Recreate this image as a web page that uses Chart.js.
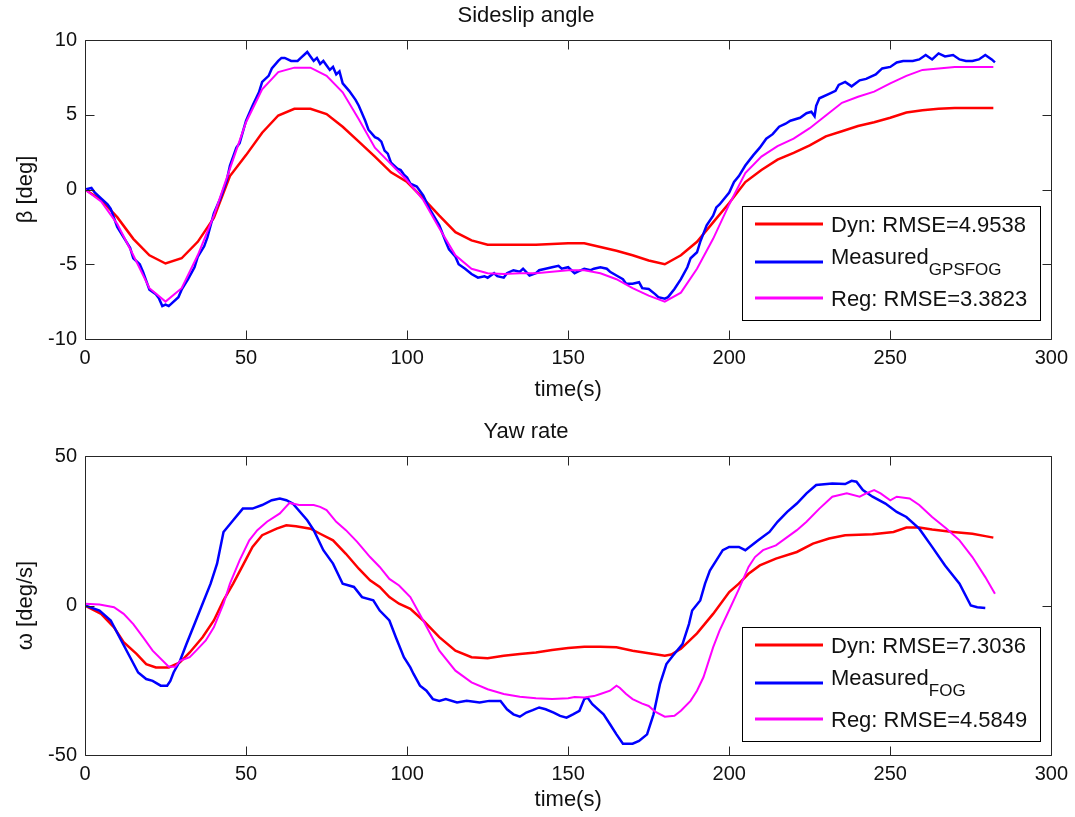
<!DOCTYPE html>
<html>
<head>
<meta charset="utf-8">
<script src="https://cdn.jsdelivr.net/npm/chart.js@4"></script>
<style>
  html, body { margin: 0; padding: 0; background: #fff; overflow: hidden; }
  #wrap { position: relative; width: 1075px; height: 817px; background: #fff; }
  canvas { position: absolute; left: 0; }
  #sideslipChart { top: 0; }
  #yawChart { top: 416px; }
</style>
</head>
<body>
<div id="wrap">
  <canvas id="sideslipChart" width="1075" height="410"></canvas>
  <canvas id="yawChart" width="1075" height="401"></canvas>
</div>
<script>
// ---- Sideslip angle (deg) ----
// Dyn and Reg models share one time grid
const betaTime = [0, 5, 10, 15, 20, 25, 30, 35, 40, 45,
  50, 55, 60, 65, 70, 75, 80, 85, 90, 95,
  100, 105, 110, 115, 120, 125, 130, 135, 140, 145,
  150, 155, 160, 165, 170, 175, 180, 185, 190, 195,
  200, 205, 210, 215, 220, 225, 230, 235, 240, 245,
  250, 255, 260, 265, 270, 275, 280, 282];
const betaDyn = [0, -0.7, -1.85, -3.3, -4.4, -4.95, -4.6, -3.5, -1.9, 0.9,
  2.3, 3.8, 4.95, 5.4, 5.4, 5.05, 4.2, 3.2, 2.2, 1.15,
  0.5, -0.6, -1.75, -2.85, -3.4, -3.7, -3.7, -3.7, -3.7, -3.65,
  -3.6, -3.6, -3.85, -4.1, -4.4, -4.75, -5.0, -4.4, -3.5, -2.2,
  -0.9, 0.5, 1.3, 2.0, 2.45, 2.95, 3.55, 3.9, 4.25, 4.5,
  4.8, 5.15, 5.3, 5.4, 5.45, 5.45, 5.45, 5.45];
const betaReg = [0, -0.8, -2.3, -4.4, -6.6, -7.5, -6.6, -4.4, -1.75, 1.4,
  4.5, 6.7, 7.85, 8.15, 8.15, 7.6, 6.5, 4.7, 2.8, 1.7,
  0.6, -0.7, -2.6, -4.4, -5.3, -5.6, -5.65, -5.6, -5.6, -5.5,
  -5.4, -5.4, -5.6, -6.0, -6.6, -7.1, -7.5, -6.9, -5.3, -3.3,
  -1.0, 1.1, 2.2, 2.9, 3.4, 4.1, 4.95, 5.8, 6.2, 6.55,
  7.1, 7.6, 8.0, 8.1, 8.2, 8.2, 8.2, 8.2];
// GPS/FOG measurement, sampled more densely
const betaMeasTime = [0, 2, 3, 5, 7, 8, 10, 12, 14, 15,
  17, 18, 20, 22, 23, 24, 25, 26, 27, 29,
  30, 32, 34, 35, 37, 38, 40, 42, 44, 45,
  47, 48, 50, 52, 54, 55, 57, 58, 60, 61,
  62, 64, 66, 67, 69, 70, 71, 72, 73, 74,
  75, 76, 77, 78, 79, 80, 82, 84, 85, 87,
  88, 90, 91, 92, 93, 94, 95, 96, 97, 98,
  99, 100, 101, 103, 105, 107, 110, 112, 113, 115,
  116, 118, 120, 122, 124, 125, 127, 128, 130, 131,
  133, 135, 136, 138, 140, 141, 143, 145, 147, 148,
  150, 152, 153, 155, 157, 158, 160, 162, 163, 165,
  167, 168, 170, 172, 173, 175, 177, 178, 180, 181,
  183, 185, 187, 188, 190, 191, 193, 195, 196, 197,
  200, 201.5, 203, 205, 207.5, 209.5, 211.5, 213.5, 215.5, 217.5,
  219, 222, 224, 225.5, 226.5, 227, 228, 231, 233, 234,
  236, 238, 240.5, 242.5, 244.5, 245.5, 247.5, 250, 252, 254,
  257, 259, 261, 263, 265, 267, 269.5, 271.5, 273.5, 275.5,
  277.5, 279.5, 281.5, 282.5];
const betaMeas = [0, 0.1, -0.2, -0.6, -1.0, -1.3, -2.5, -3.2, -3.9, -4.6,
  -5.0, -5.5, -6.7, -7.0, -7.3, -7.8, -7.7, -7.8, -7.6, -7.2,
  -6.7, -6.0, -5.2, -4.5, -3.8, -3.2, -1.6, -0.6, 0.6, 1.6,
  2.8, 3.1, 4.6, 5.6, 6.5, 7.2, 7.6, 8.1, 8.6, 8.8,
  8.8, 8.6, 8.6, 8.8, 9.2, 8.9, 8.6, 8.8, 8.4, 8.6,
  8.3, 8.0, 8.2, 7.7, 7.9, 7.1, 6.6, 6.0, 5.6, 4.6,
  4.0, 3.5, 3.4, 3.2, 2.6, 2.4, 1.8, 1.6, 1.4, 1.3,
  1.0, 0.8, 0.4, 0.2, -0.4, -1.3, -2.4, -3.5, -4.0, -4.5,
  -5.0, -5.3, -5.65, -5.9, -5.8, -5.9, -5.6, -5.8, -5.9, -5.6,
  -5.4, -5.5, -5.3, -5.75, -5.6, -5.4, -5.3, -5.2, -5.1, -5.3,
  -5.2, -5.6, -5.5, -5.3, -5.4, -5.3, -5.2, -5.3, -5.5, -5.75,
  -6.0, -6.3, -6.3, -6.2, -6.6, -6.65, -7.0, -7.2, -7.3, -7.2,
  -6.65, -6.0, -5.2, -4.6, -4.2, -3.5, -2.4, -1.75, -1.2, -1.0,
  -0.2, 0.5, 0.9, 1.6, 2.3, 2.8, 3.4, 3.7, 4.2, 4.4,
  4.6, 4.8, 5.1, 5.2, 4.9, 5.6, 6.1, 6.4, 6.6, 7.0,
  7.2, 6.9, 7.3, 7.4, 7.6, 7.7, 8.1, 8.2, 8.5, 8.6,
  8.6, 8.7, 9.0, 8.7, 9.1, 8.9, 9.0, 8.7, 8.6, 8.6,
  8.7, 9.0, 8.7, 8.5];

// ---- Yaw rate (deg/s) ----
const yawDynTime = [0, 5, 9, 12, 16, 19, 22, 26, 29.5, 32.5,
  36.5, 40, 43, 46, 49, 52, 55, 59.5, 62.5, 65.5,
  70, 73, 77, 81, 85, 88.5, 91.5, 94.5, 97.5, 101,
  105, 110, 115, 120, 125, 130, 135, 140, 145, 150,
  155, 160, 165, 170, 175, 180, 182, 185, 190, 195,
  200, 203, 206, 209.5, 214.5, 221, 226, 231, 236, 244.5,
  251, 255, 259, 263, 269.5, 275.5, 279.5, 282];
const yawDyn = [0, -2.8, -7.3, -12.3, -16.2, -19.6, -20.7, -20.7, -19.0, -15.7,
  -10.6, -5.0, 1.7, 7.3, 13.4, 19.6, 23.5, 25.7, 26.8, 26.5,
  25.7, 24.0, 21.8, 17.3, 12.3, 8.4, 6.2, 2.8, 0.6, -1.1,
  -5.0, -10.6, -15.1, -17.3, -17.6, -16.8, -16.2, -15.7, -14.9, -14.2,
  -13.8, -13.8, -14.0, -15.1, -16.0, -16.8, -16.4, -14.5, -9.3, -2.8,
  4.5, 7.3, 10.6, 13.4, 15.7, 17.9, 20.7, 22.4, 23.5, 23.8,
  24.6, 26.1, 26.1, 25.4, 24.6, 24.0, 23.2, 22.7];
const yawMeasTime = [0, 4.5, 8, 11, 14, 16.5, 19, 21, 23.5, 25.5,
  26.5, 27.5, 29.5, 31.5, 34, 36.5, 39, 41, 43, 46,
  49, 52, 55, 58, 60.5, 62.5, 64.5, 69, 71, 74,
  77, 80, 83.5, 86, 89.5, 91.5, 94.5, 96.5, 99, 101,
  102, 104, 106, 108, 110, 112, 115.5, 118.5, 122.5, 125.5,
  129, 131, 133, 135, 137, 139, 141, 143, 145.5, 147.5,
  149.5, 151.5, 153.5, 155, 156, 157.5, 161, 163, 165, 167,
  170, 172, 174.5, 176.5, 178.5, 180.5, 182.5, 185.5, 187.5, 188.5,
  191, 192.5, 194, 196, 198, 200, 203, 205, 209, 212.5,
  215, 218, 221, 224, 227, 232, 236, 238, 239.5, 241.5,
  244.5, 248.5, 252, 255, 259, 263, 267, 271.5, 275, 277,
  279.5];
const yawMeas = [0, -1.7, -5.0, -11.2, -17.3, -22.4, -24.6, -25.2, -26.8, -26.8,
  -25.2, -22.4, -18.5, -12.9, -6.2, 0.6, 7.3, 14.0, 24.6, 28.5,
  32.4, 32.4, 33.6, 35.2, 35.8, 35.2, 34.1, 28.5, 25.2, 18.5,
  14.0, 7.3, 6.2, 2.8, 1.7, -1.7, -5.0, -10.6, -17.3, -20.7,
  -22.9, -26.8, -28.5, -31.3, -31.9, -31.3, -32.4, -31.9, -32.4, -31.9,
  -31.9, -34.7, -36.4, -37.2, -35.8, -35.0, -34.1, -34.7, -35.8, -36.9,
  -37.5, -36.4, -35.2, -31.3, -30.8, -33.0, -36.4, -39.7, -43.1, -46.2,
  -46.2, -45.3, -43.1, -36.4, -26.3, -19.6, -16.8, -12.9, -6.2, -1.7,
  1.7, 7.3, 11.7, 15.1, 18.5, 19.6, 19.6, 18.5, 21.8, 24.6,
  28.0, 31.3, 34.1, 37.5, 40.3, 40.8, 40.6, 41.7, 41.4, 38.6,
  36.4, 34.1, 31.3, 29.6, 25.7, 19.6, 13.4, 7.3, 0, -0.6,
  -0.8];
const yawRegTime = [0, 4.5, 9, 12, 15, 18, 21, 26, 28, 29.5,
  32.5, 34.5, 37.5, 40, 43, 45, 48, 51, 53.5, 56.5,
  60.5, 63.5, 66.5, 71, 73, 75, 78, 81, 84.5, 88.5,
  91.5, 94.5, 97.5, 101, 105, 110, 115, 120, 125, 130,
  135, 140, 145, 150, 152, 155, 158, 160, 163, 165,
  166, 168, 170, 173, 175, 177, 180, 183, 185, 188,
  190, 192, 193, 195, 197, 200, 203, 206, 208, 210.5,
  214.5, 221, 224, 228, 232, 236.5, 240.5, 242.5, 245, 247,
  250, 252, 256, 259, 263, 267.5, 271.5, 275.5, 279.5, 282.5];
const yawReg = [0.6, 0.3, -0.6, -2.8, -6.2, -10.6, -15.1, -20.5, -20.5, -18.5,
  -17.3, -15.1, -11.7, -7.3, 0.6, 7.3, 15.1, 21.8, 25.2, 28.0,
  30.8, 34.3, 33.6, 33.6, 33.0, 31.9, 28.0, 25.2, 21.3, 16.2,
  12.9, 8.9, 6.7, 2.8, -5.0, -15.1, -21.8, -25.7, -28.0, -29.6,
  -30.5, -31.0, -31.3, -31.0, -30.6, -30.8, -30.3, -29.6, -28.5, -26.8,
  -27.5, -29.6, -31.3, -32.8, -33.6, -35.5, -37.2, -36.9, -35.2, -31.9,
  -28.5, -24.0, -20.7, -14.0, -8.4, -1.5, 5.5, 12.9, 16.2, 18.5,
  20.1, 25.2, 28.0, 32.4, 36.4, 37.5, 36.4, 37.5, 38.6, 37.5,
  35.2, 36.4, 35.8, 33.6, 29.6, 25.7, 21.8, 16.2, 9.5, 3.9];

const timeTicks = [0, 50, 100, 150, 200, 250, 300];

Chart.defaults.font.family = '"Liberation Sans", Arial, sans-serif';
Chart.defaults.color = '#111';

// pair a time array with its values
function toPoints(ts, vs) {
    return ts.map((t, i) => ({ x: t, y: vs[i] }));
}

// Boxed axes with inward ticks, plus the legend with a subscripted entry
const boxedAxes = {
    id: 'boxedAxes',
    afterDraw(chart, args, opts) {
        const ctx = chart.ctx;
        const a = chart.chartArea;
        const xs = chart.scales.x, ys = chart.scales.y;
        const L = Math.round(a.left) + 0.5, R = Math.round(a.right) + 0.5;
        const T = Math.round(a.top) + 0.5, B = Math.round(a.bottom) + 0.5;
        ctx.save();
        ctx.strokeStyle = '#262626';
        ctx.lineWidth = 1;
        ctx.beginPath();
        xs.ticks.forEach(t => {
            const px = Math.round(xs.getPixelForValue(t.value)) + 0.5;
            ctx.moveTo(px, T); ctx.lineTo(px, T + 9);
            ctx.moveTo(px, B); ctx.lineTo(px, B - 9);
        });
        ys.ticks.forEach(t => {
            const py = Math.round(ys.getPixelForValue(t.value)) + 0.5;
            ctx.moveTo(L, py); ctx.lineTo(L + 9, py);
            ctx.moveTo(R, py); ctx.lineTo(R - 9, py);
        });
        ctx.rect(L, T, R - L, B - T);
        ctx.stroke();

        // legend box, lower right
        const w = 298, h = 114;
        const lx = Math.round(a.right - 11 - w), ly = Math.round(a.bottom - opts.legendGap - h);
        ctx.fillStyle = '#fff';
        ctx.fillRect(lx, ly, w, h);
        ctx.strokeStyle = '#000';
        ctx.strokeRect(lx + 0.5, ly + 0.5, w, h);
        const rowY = [18, 56, 92];
        chart.data.datasets.forEach((ds, i) => {
            const yy = ly + rowY[i];
            ctx.strokeStyle = ds.borderColor;
            ctx.lineWidth = 3;
            ctx.beginPath();
            ctx.moveTo(lx + 13, yy);
            ctx.lineTo(lx + 81, yy);
            ctx.stroke();
            ctx.fillStyle = '#111';
            ctx.textBaseline = 'middle';
            ctx.textAlign = 'left';
            ctx.font = '22px "Liberation Sans", Arial, sans-serif';
            if (ds.sub) {
                ctx.fillText(ds.label, lx + 89, yy - 4);
                const tw = ctx.measureText(ds.label).width;
                ctx.font = '17px "Liberation Sans", Arial, sans-serif';
                ctx.fillText(ds.sub, lx + 89 + tw, yy + 8);
            } else {
                ctx.fillText(ds.label, lx + 89, yy + 2);
            }
        });
        ctx.restore();
    }
};

// xAxisH / padBottom place the "time(s)" label below the ticks
function makeOptions(title, yTitle, yMin, yMax, yStep, legendGap, xAxisH, padBottom) {
    return {
        responsive: false,
        animation: false,
        devicePixelRatio: 1,
        layout: { padding: { left: 0, right: 23, top: 0, bottom: padBottom } },
        elements: { point: { radius: 0 }, line: { tension: 0 } },
        scales: {
            x: {
                type: 'linear',
                min: 0,
                max: 300,
                afterBuildTicks: s => { s.ticks = timeTicks.map(v => ({ value: v })); },
                ticks: { padding: 7, font: { size: 20 }, maxRotation: 0, autoSkip: false },
                grid: { display: false, drawTicks: false },
                border: { display: false },
                title: { display: true, text: 'time(s)', font: { size: 22 }, padding: { top: 0, bottom: 0 } },
                afterFit: s => { s.height = xAxisH; }
            },
            y: {
                min: yMin,
                max: yMax,
                ticks: { stepSize: yStep, padding: 8, font: { size: 20 } },
                grid: { display: false, drawTicks: false },
                border: { display: false },
                title: { display: true, text: yTitle, font: { size: 22 }, padding: { top: 13, bottom: 0 } },
                afterFit: s => { s.width = 85; }
            }
        },
        plugins: {
            legend: { display: false },
            tooltip: { enabled: false },
            title: {
                display: true,
                text: title,
                font: { size: 22, weight: 'normal' },
                color: '#111',
                padding: { top: 2.8, bottom: 10.8 }
            },
            boxedAxes: { legendGap: legendGap }
        }
    };
}

// Top: sideslip angle
new Chart(document.getElementById('sideslipChart').getContext('2d'), {
    type: 'line',
    data: {
        datasets: [
            { label: 'Dyn: RMSE=4.9538', data: toPoints(betaTime, betaDyn), borderColor: '#ff0000', borderWidth: 2.5, order: 3 },
            { label: 'Measured', sub: 'GPSFOG', data: toPoints(betaMeasTime, betaMeas), borderColor: '#0000ff', borderWidth: 2.5, order: 2 },
            { label: 'Reg: RMSE=3.3823', data: toPoints(betaTime, betaReg), borderColor: '#ff00ff', borderWidth: 2, order: 1 }
        ]
    },
    options: makeOptions('Sideslip angle', 'β [deg]', -10, 10, 5, 19, 64.2, 6.8),
    plugins: [boxedAxes]
});

// Bottom: yaw rate
new Chart(document.getElementById('yawChart').getContext('2d'), {
    type: 'line',
    data: {
        datasets: [
            { label: 'Dyn: RMSE=7.3036', data: toPoints(yawDynTime, yawDyn), borderColor: '#ff0000', borderWidth: 2.5, order: 3 },
            { label: 'Measured', sub: 'FOG', data: toPoints(yawMeasTime, yawMeas), borderColor: '#0000ff', borderWidth: 2.5, order: 2 },
            { label: 'Reg: RMSE=4.5849', data: toPoints(yawRegTime, yawReg), borderColor: '#ff00ff', borderWidth: 2, order: 1 }
        ]
    },
    options: makeOptions('Yaw rate', 'ω [deg/s]', -50, 50, 50, 14, 58.2, 3.8),
    plugins: [boxedAxes]
});
</script>
</body>
</html>
